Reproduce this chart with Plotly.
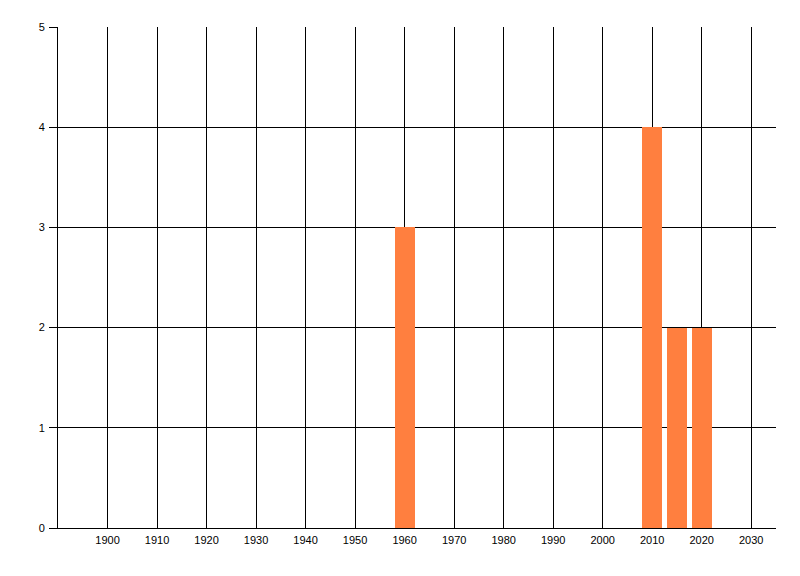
import plotly.graph_objects as go

years = [1960, 2010, 2015, 2020]
counts = [3, 4, 2, 2]
x_ticks = [1900, 1910, 1920, 1930, 1940, 1950, 1960, 1970, 1980, 1990, 2000, 2010, 2020, 2030]
y_ticks = [0, 1, 2, 3, 4, 5]

fig = go.Figure()
fig.add_trace(go.Bar(x=years, y=counts, width=4, marker=dict(color="#FF7F3F", line=dict(width=0))))

fig.update_layout(
    width=800, height=576,
    margin=dict(l=50, r=32, t=19, b=56),
    paper_bgcolor="white", plot_bgcolor="white",
    font=dict(family="Liberation Sans, Arial, sans-serif", size=11, color="black"),
    showlegend=False,
    bargap=0,
)
fig.update_xaxes(
    range=[1890, 2035], tickmode="array", tickvals=x_ticks, ticktext=[str(v) for v in x_ticks],
    showgrid=True, gridcolor="black", gridwidth=1,
    showline=True, linecolor="black", linewidth=1,
    ticks="", zeroline=False, ticklabelstandoff=2,
)
fig.update_yaxes(
    range=[0, 5], tickmode="array", tickvals=y_ticks,
    showgrid=True, gridcolor="black", gridwidth=1,
    showline=True, linecolor="black", linewidth=1,
    ticks="outside", ticklen=8, tickcolor="black", tickwidth=1,
    zeroline=False, ticklabelstandoff=2,
)
fig.write_html("out.html")
